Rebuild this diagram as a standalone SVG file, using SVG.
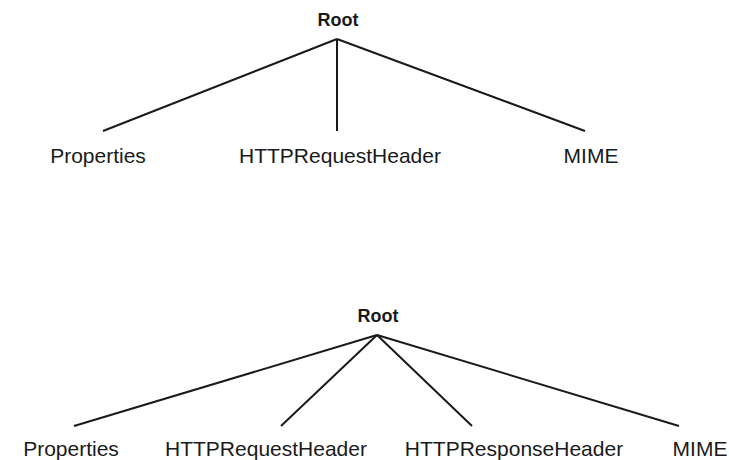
<svg xmlns="http://www.w3.org/2000/svg" width="729" height="460" viewBox="0 0 729 460">
  <style>
    .root { font-family: "Liberation Sans", Arial, sans-serif; font-size: 18px; font-weight: bold; fill: #1a1a1a; text-anchor: middle; }
    .leaf { font-family: "Liberation Sans", Arial, sans-serif; font-size: 21px; fill: #1a1a1a; text-anchor: middle; }
    .edge { stroke: #1a1a1a; stroke-width: 2; fill: none; stroke-linecap: butt; }
  </style>
  <rect width="729" height="460" fill="#ffffff"/>

  <!-- Upper tree: three children -->
  <g id="tree1-edges">
    <line class="edge" x1="337" y1="39" x2="103" y2="131"/>
    <line class="edge" x1="337" y1="39" x2="337" y2="131"/>
    <line class="edge" x1="337" y1="39" x2="585" y2="131"/>
  </g>
  <g id="tree1-root"><text class="root" x="338" y="26">Root</text></g>
  <g id="tree1-properties"><text class="leaf" x="98" y="163">Properties</text></g>
  <g id="tree1-request"><text class="leaf" x="340" y="163">HTTPRequestHeader</text></g>
  <g id="tree1-mime"><text class="leaf" x="591" y="163">MIME</text></g>

  <!-- Lower tree: four children -->
  <g id="tree2-edges">
    <line class="edge" x1="377" y1="335" x2="74" y2="426"/>
    <line class="edge" x1="377" y1="335" x2="281" y2="426"/>
    <line class="edge" x1="377" y1="335" x2="472" y2="426"/>
    <line class="edge" x1="377" y1="335" x2="679" y2="426"/>
  </g>
  <g id="tree2-root"><text class="root" x="378" y="322">Root</text></g>
  <g id="tree2-properties"><text class="leaf" x="71" y="456">Properties</text></g>
  <g id="tree2-request"><text class="leaf" x="266" y="456">HTTPRequestHeader</text></g>
  <g id="tree2-response"><text class="leaf" x="514" y="456">HTTPResponseHeader</text></g>
  <g id="tree2-mime"><text class="leaf" x="700" y="456">MIME</text></g>
</svg>
